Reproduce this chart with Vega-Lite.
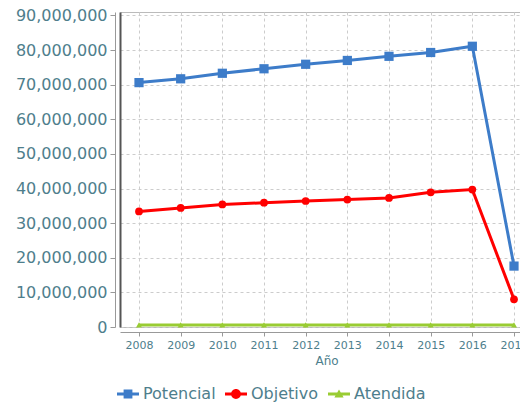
{
  "$schema": "https://vega.github.io/schema/vega-lite/v6.json",
  "width": 413,
  "height": 315,
  "padding": {"left": 15, "top": 7, "right": 0, "bottom": 0},
  "background": "white",
  "data": {
    "values": [
      {"year": "2008", "serie": "Potencial", "value": 70600000},
      {"year": "2009", "serie": "Potencial", "value": 71700000},
      {"year": "2010", "serie": "Potencial", "value": 73300000},
      {"year": "2011", "serie": "Potencial", "value": 74600000},
      {"year": "2012", "serie": "Potencial", "value": 75900000},
      {"year": "2013", "serie": "Potencial", "value": 77000000},
      {"year": "2014", "serie": "Potencial", "value": 78200000},
      {"year": "2015", "serie": "Potencial", "value": 79300000},
      {"year": "2016", "serie": "Potencial", "value": 81100000},
      {"year": "2017", "serie": "Potencial", "value": 17600000},
      {"year": "2008", "serie": "Objetivo", "value": 33400000},
      {"year": "2009", "serie": "Objetivo", "value": 34400000},
      {"year": "2010", "serie": "Objetivo", "value": 35400000},
      {"year": "2011", "serie": "Objetivo", "value": 35900000},
      {"year": "2012", "serie": "Objetivo", "value": 36400000},
      {"year": "2013", "serie": "Objetivo", "value": 36800000},
      {"year": "2014", "serie": "Objetivo", "value": 37300000},
      {"year": "2015", "serie": "Objetivo", "value": 38900000},
      {"year": "2016", "serie": "Objetivo", "value": 39700000},
      {"year": "2017", "serie": "Objetivo", "value": 8000000},
      {"year": "2008", "serie": "Atendida", "value": 600000},
      {"year": "2009", "serie": "Atendida", "value": 600000},
      {"year": "2010", "serie": "Atendida", "value": 600000},
      {"year": "2011", "serie": "Atendida", "value": 600000},
      {"year": "2012", "serie": "Atendida", "value": 600000},
      {"year": "2013", "serie": "Atendida", "value": 600000},
      {"year": "2014", "serie": "Atendida", "value": 600000},
      {"year": "2015", "serie": "Atendida", "value": 600000},
      {"year": "2016", "serie": "Atendida", "value": 600000},
      {"year": "2017", "serie": "Atendida", "value": 600000}
    ]
  },
  "encoding": {
    "x": {
      "field": "year",
      "type": "ordinal",
      "scale": {"type": "point", "padding": 0.456},
      "axis": {
        "title": "Año",
        "labelAngle": 0,
        "offset": 5,
        "grid": true,
        "gridDash": [3, 3],
        "gridColor": "#cccccc",
        "domainColor": "#999999",
        "tickColor": "#999999",
        "tickSize": 4,
        "labelFontSize": 11,
        "labelPadding": 3,
        "labelColor": "#4e7e8c",
        "titleColor": "#4e7e8c",
        "titleFontSize": 12,
        "titleFontWeight": "normal",
        "titlePadding": 5
      }
    }
  },
  "layer": [
    {
      "mark": {"type": "line", "strokeWidth": 3},
      "encoding": {
        "y": {
          "field": "value",
          "type": "quantitative",
          "scale": {"domain": [0, 91000000], "nice": false},
          "axis": {
            "title": null,
            "values": [0, 10000000, 20000000, 30000000, 40000000, 50000000, 60000000, 70000000, 80000000, 90000000],
            "format": ",d",
            "offset": 5,
            "grid": true,
            "gridDash": [3, 3],
            "gridColor": "#cccccc",
            "domainColor": "#999999",
            "tickColor": "#999999",
            "tickSize": 5,
            "labelFontSize": 16,
            "labelPadding": 3,
            "labelColor": "#4e7e8c"
          }
        },
        "color": {
          "field": "serie",
          "type": "nominal",
          "scale": {"domain": ["Potencial", "Objetivo", "Atendida"], "range": ["#3d7cc9", "#ff0000", "#99cc33"]},
          "legend": {
            "title": null,
            "orient": "none",
            "legendX": -3,
            "legendY": 371,
            "direction": "horizontal",
            "labelFontSize": 16,
            "labelColor": "#4e7e8c",
            "labelOffset": 4,
            "columnPadding": 9,
            "symbolSize": 484,
            "padding": 0,
            "encode": {
              "symbols": {
                "update": {
                  "shape": {"signal": "datum.value === 'Potencial' ? 'M-1,-0.14H1V0.14H-1Z M-0.4,-0.4H0.4V0.4H-0.4Z' : datum.value === 'Objetivo' ? 'M-1,-0.14H1V0.14H-1Z M-0.45,0A0.45,0.45 0 1,1 0.45,0A0.45,0.45 0 1,1 -0.45,0Z' : 'M-1,-0.14H1V0.14H-1Z M-0.42,0.32L0,-0.42L0.42,0.32Z'"},
                  "fill": {"scale": "color", "field": "value"},
                  "stroke": {"value": "transparent"},
                  "strokeWidth": {"value": 0},
                  "opacity": {"value": 1},
                  "size": {"value": 484}
                }
              }
            }
          }
        }
      }
    },
    {
      "transform": [{"filter": "datum.serie === 'Potencial'"}],
      "mark": {"type": "point", "shape": "square", "filled": true, "size": 85, "opacity": 1},
      "encoding": {
        "y": {"field": "value", "type": "quantitative"},
        "color": {"field": "serie", "type": "nominal"}
      }
    },
    {
      "transform": [{"filter": "datum.serie === 'Objetivo'"}],
      "mark": {"type": "point", "shape": "circle", "filled": true, "size": 60, "opacity": 1},
      "encoding": {
        "y": {"field": "value", "type": "quantitative"},
        "color": {"field": "serie", "type": "nominal"}
      }
    },
    {
      "transform": [{"filter": "datum.serie === 'Atendida'"}],
      "mark": {"type": "point", "shape": "triangle-up", "filled": true, "size": 35, "opacity": 1},
      "encoding": {
        "y": {"field": "value", "type": "quantitative"},
        "color": {"field": "serie", "type": "nominal"}
      }
    },
    {
      "mark": {"type": "rule", "color": "#444444", "strokeWidth": 1.5},
      "encoding": {
        "y": {
          "datum": 0,
          "type": "quantitative",
          "axis": {"orient": "left", "offset": 0, "labels": false, "ticks": false, "grid": false, "title": null, "domainColor": "#555555", "domainWidth": 2}
        }
      }
    }
  ],
  "resolve": {"axis": {"y": "independent"}},
  "config": {
    "font": "DejaVu Sans",
    "view": {"stroke": "#bbbbbb"}
  }
}
